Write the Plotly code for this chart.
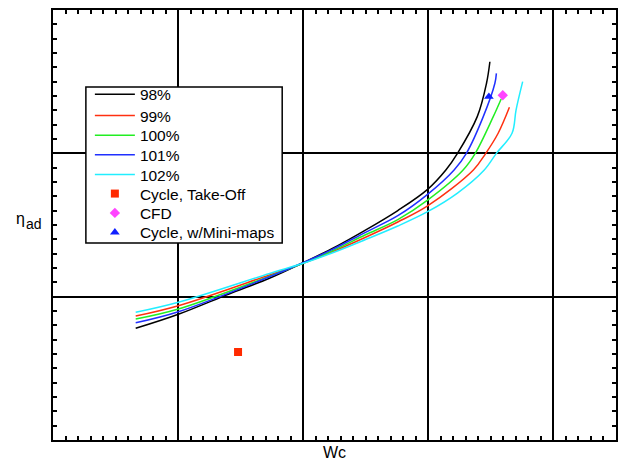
import plotly.graph_objects as go

# ---- data (arbitrary axis units, no tick labels) ----
x98 = [0.661, 1.002, 1.407, 1.725, 1.994, 2.225, 2.494, 2.756, 2.994, 3.140, 3.233, 3.391, 3.465, 3.492]
y98 = [0.779, 0.877, 1.019, 1.127, 1.235, 1.333, 1.463, 1.601, 1.749, 1.884, 2.000, 2.256, 2.489, 2.639]

x99 = [0.661, 1.002, 1.725, 1.994, 2.225, 2.494, 2.756, 2.994, 3.360, 3.459, 3.558, 3.648]
y99 = [0.865, 0.937, 1.150, 1.231, 1.310, 1.413, 1.521, 1.633, 1.884, 2.000, 2.140, 2.321]

x100 = [0.661, 1.002, 1.725, 1.994, 2.225, 2.494, 2.756, 2.994, 3.278, 3.375, 3.518, 3.582]
y100 = [0.844, 0.914, 1.141, 1.231, 1.317, 1.430, 1.538, 1.674, 1.884, 2.000, 2.254, 2.379]

x101 = [0.661, 1.002, 1.725, 1.994, 2.225, 2.494, 2.756, 2.994, 3.206, 3.304, 3.439, 3.532, 3.544]
y101 = [0.818, 0.895, 1.137, 1.235, 1.326, 1.447, 1.565, 1.714, 1.884, 2.000, 2.256, 2.489, 2.558]

x102 = [0.661, 1.002, 1.725, 1.994, 2.225, 2.494, 2.756, 2.994, 3.233, 3.447, 3.544, 3.669, 3.701, 3.754]
y102 = [0.891, 0.961, 1.160, 1.231, 1.303, 1.397, 1.493, 1.593, 1.723, 1.884, 2.000, 2.140, 2.302, 2.500]

takeoff_x = [1.479]
takeoff_y = [0.614]
cfd_x = [3.595]
cfd_y = [2.405]
mini_x = [3.484]
mini_y = [2.395]

line_names = ["98%", "99%", "100%", "101%", "102%"]
line_colors = ["#000000", "#ff3010", "#22ee22", "#2030ff", "#22eeff"]
marker_names = ["Cycle, Take-Off", "CFD", "Cycle, w/Mini-maps"]

legend_ids = ["legend", "legend2", "legend3", "legend4",
              "legend5", "legend6", "legend7", "legend8"]
# vertical centre of each legend row (paper fraction)
legend_rows = [0.803, 0.7535, 0.7077, 0.6621, 0.6163, 0.5721, 0.5272, 0.4821]

fig = go.Figure()
for i, (name, xs, ys, c) in enumerate(zip(line_names, [x98, x99, x100, x101, x102],
                                          [y98, y99, y100, y101, y102], line_colors)):
    fig.add_trace(go.Scatter(x=xs, y=ys, mode="lines", name=name, legend=legend_ids[i],
                             line=dict(color=c, width=1.5, shape="spline", smoothing=1.0)))

fig.add_trace(go.Scatter(x=takeoff_x, y=takeoff_y, mode="markers", name=marker_names[0],
                         legend=legend_ids[5],
                         marker=dict(symbol="square", size=8, color="#ff2a00")))
fig.add_trace(go.Scatter(x=cfd_x, y=cfd_y, mode="markers", name=marker_names[1],
                         legend=legend_ids[6],
                         marker=dict(symbol="diamond", size=8, color="#ff44ff")))
fig.add_trace(go.Scatter(x=mini_x, y=mini_y, mode="markers", name=marker_names[2],
                         legend=legend_ids[7],
                         marker=dict(symbol="triangle-up", size=8.5, color="#1020ff")))

axis_common = dict(
    showline=True, linecolor="black", linewidth=2, mirror="allticks",
    showgrid=True, gridcolor="black", gridwidth=1.5,
    ticks="inside", ticklen=0, tickcolor="black",
    showticklabels=False, zeroline=False, dtick=1, tick0=0,
    minor=dict(ticks="inside", ticklen=4, tickwidth=1.5, tickcolor="black",
               dtick=0.1, showgrid=False),
)

fig.update_xaxes(range=[0, 4.5], **axis_common)
fig.update_yaxes(range=[0, 3], **axis_common)

legend_layout = {}
for lid, yy in zip(legend_ids, legend_rows):
    legend_layout[lid] = dict(x=0.0655, y=yy, xanchor="left", yanchor="middle",
                              bgcolor="rgba(0,0,0,0)", borderwidth=0,
                              itemwidth=40, font=dict(size=15.5))

fig.update_layout(
    width=621, height=468,
    margin=dict(l=53, r=3, t=10, b=28),
    plot_bgcolor="white", paper_bgcolor="white",
    font=dict(family="Liberation Sans, Arial, sans-serif", size=14, color="black"),
    showlegend=True,
    **legend_layout,
    shapes=[dict(type="rect", xref="paper", yref="paper",
                 x0=0.0584, x1=0.4071, y0=0.4581, y1=0.8209,
                 line=dict(color="black", width=1.5), fillcolor="white", layer="above")],
    annotations=[
        dict(text="η", xref="paper", yref="paper", x=-0.058, y=0.515,
             xanchor="center", yanchor="middle", showarrow=False, font=dict(size=16)),
        dict(text="ad", xref="paper", yref="paper", x=-0.034, y=0.502,
             xanchor="center", yanchor="middle", showarrow=False, font=dict(size=14)),
        dict(text="Wc", xref="paper", yref="paper", x=0.5, y=-0.03,
             xanchor="center", yanchor="middle", showarrow=False, font=dict(size=16)),
    ],
)

fig.write_html("out.html")
